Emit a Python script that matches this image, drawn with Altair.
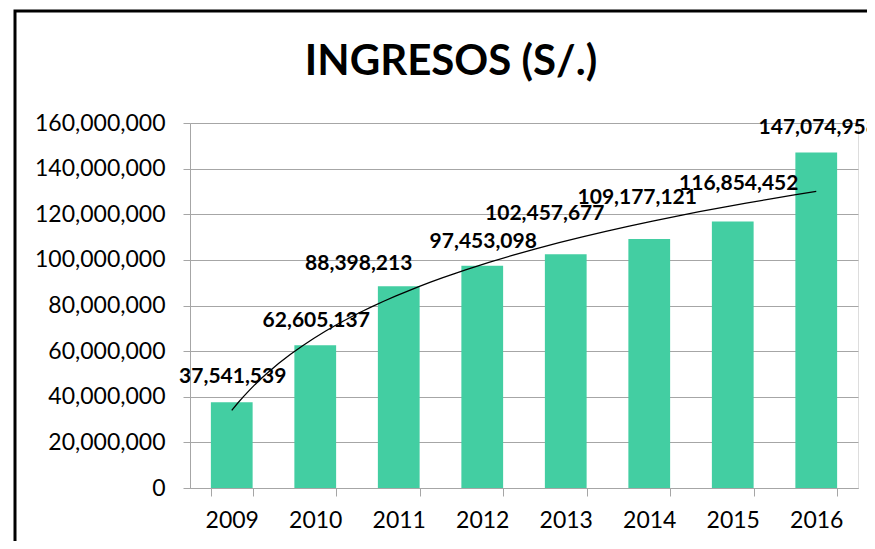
import altair as alt
import pandas as pd

years = ["2009", "2010", "2011", "2012", "2013", "2014", "2015", "2016"]
ingresos = [37541539, 62605137, 88398213, 97453098, 102457677, 109177121, 116854452, 147074958]
period = [1, 2, 3, 4, 5, 6, 7, 8]
y_ticks = [0, 20000000, 40000000, 60000000, 80000000, 100000000, 120000000, 140000000, 160000000]
title_text = "INGRESOS (S/.)"

# layout only: pixel nudges of the data labels (manually placed in the source chart)
label_nudge_x = [1, 1, -40, 1, -21, -12, 6, 2]
label_nudge_y = [-25, -24, -22, -24, -40, -41, -37, -24]

df = pd.DataFrame({"year": years, "value": ingresos, "idx": period})

W, H = 668, 365
BAR = "#43CEA2"
GRID = "#A6A6A6"
FONT = "Lato"

band_scale = alt.Scale(paddingInner=0.5, paddingOuter=0.25)
x_axis = alt.Axis(labelAngle=0, tickBand="extent", grid=False, domainColor=GRID,
                  tickColor=GRID, tickSize=8, labelPadding=13, labelFont=FONT,
                  labelFontSize=23, labelColor="black")
x_band = alt.X("year:N", title=None, sort=years, scale=band_scale, axis=x_axis)

y_scale = alt.Scale(domain=[0, 160000000], nice=False)
y_enc = alt.Y(
    "value:Q", title=None, scale=y_scale,
    axis=alt.Axis(values=y_ticks, format=",.0f", grid=True, gridColor=GRID, domainColor=GRID,
                  tickColor=GRID, tickSize=7, labelPadding=18, labelFont=FONT,
                  labelFontSize=23, labelColor="black"),
)

base = alt.Chart(df)

bars = base.mark_bar(color=BAR).encode(x=x_band, y=y_enc)

label_layers = []
for yr, ndx, ndy in zip(years, label_nudge_x, label_nudge_y):
    label_layers.append(
        base.transform_filter(alt.datum.year == yr).mark_text(
            font=FONT, fontSize=21, fontWeight="bold", color="black", dx=ndx, dy=ndy
        ).encode(x=x_band, y=y_enc, text=alt.Text("value:Q", format=","))
    )

bar_group = alt.layer(bars, *label_layers)

trend = base.transform_regression(
    "idx", "value", method="log", extent=[1, 8]
).mark_line(color="black", strokeWidth=1.3).encode(
    x=alt.X("idx:Q", scale=alt.Scale(domain=[0.5, 8.5], nice=False, zero=False), axis=None),
    y=y_enc,
)

frame = alt.Chart(pd.DataFrame({"k": [0]})).mark_rect(
    filled=False, stroke="black", strokeWidth=3
).encode(
    x=alt.value(-175), x2=alt.value(760), y=alt.value(-112), y2=alt.value(480)
)

title = alt.Chart(pd.DataFrame({"t": [title_text]})).mark_text(
    font=FONT, fontSize=42, fontWeight="bold", color="black", baseline="middle", align="center"
).encode(x=alt.value(261), y=alt.value(-61), text="t:N")

chart = alt.layer(bar_group, trend, frame, title).resolve_scale(
    x="independent"
).resolve_axis(x="independent").properties(
    width=W, height=H,
    autosize="none",
    padding={"left": 182, "top": 115, "right": 9, "bottom": 53},
).configure_view(stroke=None).configure(background="white")

chart.save("out.html", embed_options={"renderer": "svg", "actions": False})
